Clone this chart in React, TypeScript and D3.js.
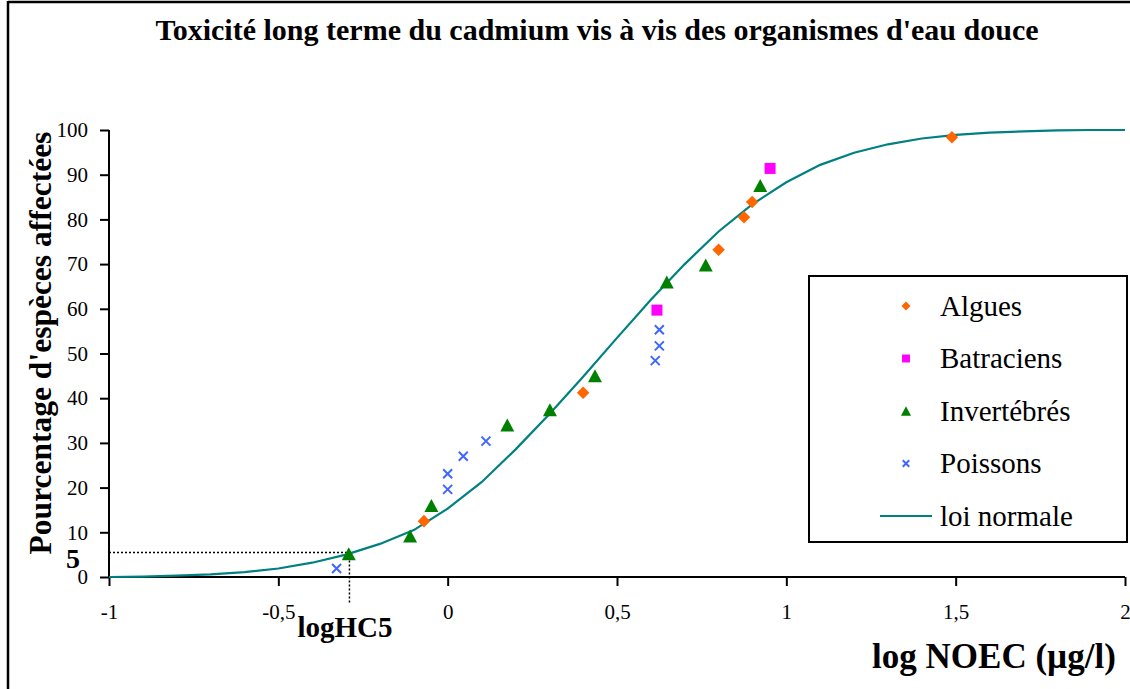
import React, { useEffect, useRef } from "react";
import * as d3 from "d3";

const W = 1130;
const H = 689;

const title = "Toxicité long terme du cadmium vis à vis des organismes d'eau douce";
const xLabel = "log NOEC (µg/l)";
const yLabel = "Pourcentage d'espèces affectées";

const xTicks = [-1, -0.5, 0, 0.5, 1, 1.5, 2];
const xTickLabels = ["-1", "-0,5", "0", "0,5", "1", "1,5", "2"];
const yTicks = [0, 10, 20, 30, 40, 50, 60, 70, 80, 90, 100];

// [log NOEC, % species]
const algues: [number, number][] = [
  [-0.07, 12.5], [0.4, 41.2], [0.8, 73.2], [0.875, 80.5], [0.899, 83.9], [1.489, 98.4],
];
const batraciens: [number, number][] = [
  [0.618, 59.7], [0.952, 91.4],
];
const invertebres: [number, number][] = [
  [-0.292, 5.2], [-0.111, 9.2], [-0.048, 16.0], [0.176, 34.0], [0.302, 37.4],
  [0.435, 45.0], [0.647, 66.0], [0.762, 69.8], [0.923, 87.6],
];
const poissons: [number, number][] = [
  [-0.328, 1.9], [0.0, 19.6], [0.0, 23.1], [0.046, 27.0], [0.113, 30.4],
  [0.613, 48.4], [0.625, 51.7], [0.625, 55.3],
];
const curveX = [-1, -0.9, -0.8, -0.7, -0.6, -0.5, -0.4, -0.3, -0.2, -0.1, 0, 0.1, 0.2, 0.3, 0.4, 0.5, 0.6, 0.7, 0.8, 0.9, 1, 1.1, 1.2, 1.3, 1.4, 1.5, 1.6, 1.7, 1.8, 1.9, 2];
const curveY = [0, 0.1, 0.3, 0.6, 1.1, 1.9, 3.2, 5.0, 7.4, 10.5, 15.3, 21.2, 28.5, 36.4, 44.8, 53.5, 62.0, 70.0, 77.3, 83.4, 88.3, 92.2, 94.9, 96.8, 98.1, 98.9, 99.4, 99.7, 99.9, 100, 100];

const hc5X = -0.29;
const hc5Y = 5.5;

const legendItems = ["Algues", "Batraciens", "Invertébrés", "Poissons", "loi normale"];

const C_ALG = "#FF6600";
const C_BAT = "#FF00FF";
const C_INV = "#008000";
const C_POI = "#3F66FF";
const C_LINE = "#008080";
const FONT = "Times New Roman, Liberation Serif, DejaVu Serif, serif";

export default function App() {
  const ref = useRef<SVGSVGElement | null>(null);

  useEffect(() => {
    const svg = d3.select(ref.current);
    svg.selectAll("*").remove();
    svg.style("font-family", FONT);

    const x = d3.scaleLinear().domain([-1, 2]).range([109, 1125]);
    const y = d3.scaleLinear().domain([0, 100]).range([577, 130]);

    svg.append("rect").attr("width", W).attr("height", H).attr("fill", "#fff");
    // outer frame (top & left visible)
    svg.append("line").attr("x1", 8).attr("x2", W).attr("y1", 2).attr("y2", 2).attr("stroke", "#000").attr("stroke-width", 2.5);
    svg.append("line").attr("x1", 8).attr("x2", 8).attr("y1", 1).attr("y2", H).attr("stroke", "#000").attr("stroke-width", 2.5);

    // title
    svg.append("text").attr("x", 597).attr("y", 40).attr("text-anchor", "middle")
      .style("font-family", FONT).attr("font-weight", "bold").attr("font-size", 30).text(title);

    // axes
    const yAxis = svg.append("g").attr("transform", `translate(${x(-1)},0)`)
      .call(d3.axisLeft(y).tickValues(yTicks).tickSize(9).tickPadding(12).tickFormat((d) => String(d)));
    const xAxis = svg.append("g").attr("transform", `translate(0,${y(0)})`)
      .call(d3.axisBottom(x).tickValues(xTicks).tickSize(9).tickPadding(18)
        .tickFormat((d, i) => xTickLabels[i]));
    [xAxis, yAxis].forEach((g) => {
      g.attr("font-family", null);
      g.select(".domain").attr("stroke", "#000").attr("stroke-width", 2);
      g.selectAll(".tick line").attr("stroke", "#000").attr("stroke-width", 2);
      g.selectAll(".tick text").style("font-family", FONT).attr("font-size", 21).attr("fill", "#000");
    });
    xAxis.select(".domain").attr("d", `M${x(-1)},0H${x(2)}`);
    yAxis.select(".domain").attr("d", `M0,${y(0)}V${y(100)}`);

    // HC5 dotted lines
    svg.append("line").attr("x1", x(-1)).attr("x2", x(hc5X)).attr("y1", y(hc5Y)).attr("y2", y(hc5Y))
      .attr("stroke", "#000").attr("stroke-width", 1.5).attr("stroke-dasharray", "2,2");
    svg.append("line").attr("x1", x(hc5X)).attr("x2", x(hc5X)).attr("y1", y(hc5Y)).attr("y2", 604)
      .attr("stroke", "#000").attr("stroke-width", 1.5).attr("stroke-dasharray", "2,2");
    svg.append("text").attr("x", 73).attr("y", 568).attr("text-anchor", "middle")
      .style("font-family", FONT).attr("font-weight", "bold").attr("font-size", 28).text("5");
    svg.append("text").attr("x", 345).attr("y", 637).attr("text-anchor", "middle")
      .style("font-family", FONT).attr("font-weight", "bold").attr("font-size", 29).text("logHC5");

    // curve
    const pts: [number, number][] = curveX.map((v, i) => [v, curveY[i]]);
    const line = d3.line<[number, number]>().x((d) => x(d[0])).y((d) => y(d[1]));
    svg.append("path").attr("d", line(pts) as string).attr("fill", "none")
      .attr("stroke", C_LINE).attr("stroke-width", 2.2);

    // markers
    const sym = (type: d3.SymbolType, size: number) => d3.symbol().type(type).size(size)() as string;
    function drawMarker(g: any, cx: number, cy: number, kind: string, big: boolean) {
      const s = big ? 1 : 0.72;
      if (kind === "alg") {
        g.append("path").attr("d", sym(d3.symbolDiamond2, 100 * s * s)).attr("transform", `translate(${cx},${cy})`).attr("fill", C_ALG);
      } else if (kind === "bat") {
        g.append("path").attr("d", sym(d3.symbolSquare, 121 * s * s)).attr("transform", `translate(${cx},${cy})`).attr("fill", C_BAT);
      } else if (kind === "inv") {
        const hw = 7 * s, hh = 6.5 * s;
        g.append("path").attr("d", `M${cx},${cy - hh}L${cx + hw},${cy + hh}L${cx - hw},${cy + hh}Z`).attr("fill", C_INV);
      } else if (kind === "poi") {
        const r = 4.5 * s;
        g.append("path").attr("d", `M${cx - r},${cy - r}L${cx + r},${cy + r}M${cx - r},${cy + r}L${cx + r},${cy - r}`)
          .attr("stroke", C_POI).attr("stroke-width", 2).attr("fill", "none");
      }
    }
    const drawSeries = (data: [number, number][], kind: string) => {
      data.forEach(([a, b]) => drawMarker(svg, x(a), y(b), kind, true));
    };
    drawSeries(algues, "alg");
    drawSeries(batraciens, "bat");
    drawSeries(invertebres, "inv");
    drawSeries(poissons, "poi");

    // axis labels
    svg.append("text").attr("x", 994).attr("y", 668).attr("text-anchor", "middle")
      .style("font-family", FONT).attr("font-weight", "bold").attr("font-size", 35).text(xLabel);
    svg.append("text").attr("transform", "translate(51,343) rotate(-90)").attr("text-anchor", "middle")
      .style("font-family", FONT).attr("font-weight", "bold").attr("font-size", 31.5).text(yLabel);

    // legend
    const lg = svg.append("g");
    lg.append("rect").attr("x", 809).attr("y", 276).attr("width", 318).attr("height", 266)
      .attr("fill", "#fff").attr("stroke", "#000").attr("stroke-width", 2);
    const kinds = ["alg", "bat", "inv", "poi", "line"];
    legendItems.forEach((name, i) => {
      const cy = 306 + i * 52.5;
      if (kinds[i] === "line") {
        lg.append("line").attr("x1", 880).attr("x2", 932).attr("y1", cy).attr("y2", cy).attr("stroke", C_LINE).attr("stroke-width", 2.2);
      } else {
        drawMarker(lg, 906, cy, kinds[i], false);
      }
      lg.append("text").attr("x", 940).attr("y", cy + 9.5).style("font-family", FONT).attr("font-size", 29).text(name);
    });
  }, []);

  return (
    <svg ref={ref} width={W} height={H} style={{ position: "absolute", left: 0, top: 0, display: "block" }} />
  );
}
